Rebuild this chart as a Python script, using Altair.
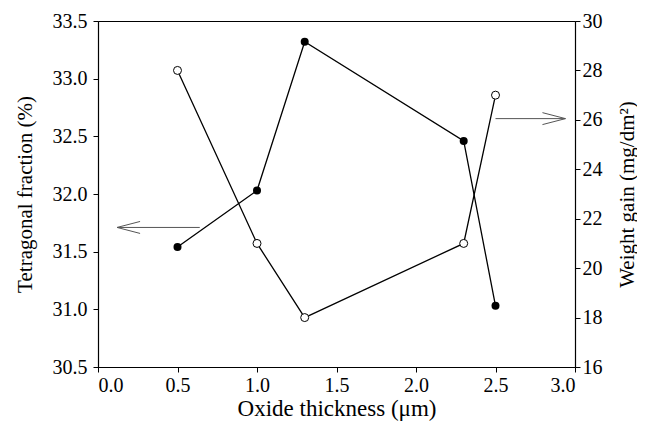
import altair as alt
import pandas as pd

# Data
thickness = [0.5, 1.0, 1.3, 2.3, 2.5]
tetragonal = [31.54, 32.03, 33.32, 32.46, 31.03]
weight_gain = [28.0, 21.0, 18.0, 21.0, 27.0]

x_ticks = [0.0, 0.5, 1.0, 1.5, 2.0, 2.5, 3.0]
left_ticks = [30.5, 31.0, 31.5, 32.0, 32.5, 33.0, 33.5]
right_ticks = [16, 18, 20, 22, 24, 26, 28, 30]

# arrows: tip x, tail x, y value (on their own axis)
arrow_left_tip = [0.12]
arrow_left_tail = [0.64]
arrow_left_y = [31.71]
arrow_right_tip = [2.94]
arrow_right_tail = [2.5]
arrow_right_y = [26.05]

FONT = "Liberation Serif"

df_l = pd.DataFrame({"x": thickness, "y": tetragonal})
df_r = pd.DataFrame({"x": thickness, "y": weight_gain})
arr_l = pd.DataFrame({"tip": arrow_left_tip, "tail": arrow_left_tail, "y": arrow_left_y})
arr_r = pd.DataFrame({"tip": arrow_right_tip, "tail": arrow_right_tail, "y": arrow_right_y})

common = dict(labelFont=FONT, titleFont=FONT, labelFontSize=20, titleFontSize=21,
              labelColor="black", titleColor="black", titleFontWeight="normal",
              domainColor="black", tickColor="black", domainWidth=1.2, tickWidth=1,
              tickSize=5, grid=False)

x_scale = alt.Scale(domain=[0, 3], nice=False, zero=False)
x_axis = alt.Axis(values=x_ticks, format=".1f", title="Oxide thickness (μm)",
                  labelPadding=3, titlePadding=2, **{**common, "titleFontSize": 23})

yl_enc = alt.Y("y:Q", scale=alt.Scale(domain=[30.5, 33.5], nice=False, zero=False),
               axis=alt.Axis(values=left_ticks, format=".1f", title="Tetragonal fraction (%)",
                             orient="left", labelPadding=6, titlePadding=17, **common))
yr_enc = alt.Y("y:Q", scale=alt.Scale(domain=[16, 30], nice=False, zero=False),
               axis=alt.Axis(values=right_ticks, format="d", title="Weight gain (mg/dm²)",
                             orient="right", labelPadding=2, titlePadding=14,
                             titleAngle=270, titleBaseline="top", **common))

ARROW_PATH = "M-2,-0.52L0,0L-2,0.52"

left_line = alt.Chart(df_l).mark_line(color="black", strokeWidth=1.3).encode(
    x=alt.X("x:Q", scale=x_scale, axis=x_axis), y=yl_enc)
left_pts = alt.Chart(df_l).mark_point(filled=True, color="black", size=64, opacity=1).encode(
    x=alt.X("x:Q", scale=x_scale, axis=x_axis), y=yl_enc)
left_arrow = alt.Chart(arr_l).mark_rule(color="#555555", strokeWidth=1).encode(
    x=alt.X("tip:Q", scale=x_scale, axis=x_axis), x2="tail:Q", y=yl_enc)
left_head = alt.Chart(arr_l).mark_point(shape=ARROW_PATH, size=529, filled=False,
                                         color="#555555", strokeWidth=1, angle=180, opacity=1).encode(
    x=alt.X("tip:Q", scale=x_scale, axis=x_axis), y=yl_enc)

right_line = alt.Chart(df_r).mark_line(color="black", strokeWidth=1.3).encode(
    x=alt.X("x:Q", scale=x_scale, axis=x_axis), y=yr_enc)
right_pts = alt.Chart(df_r).mark_point(shape="circle", filled=False, fill="white", stroke="black",
                                        strokeWidth=1, size=64, opacity=1, fillOpacity=1).encode(
    x=alt.X("x:Q", scale=x_scale, axis=x_axis), y=yr_enc)
right_arrow = alt.Chart(arr_r).mark_rule(color="#555555", strokeWidth=1).encode(
    x=alt.X("tail:Q", scale=x_scale, axis=x_axis), x2="tip:Q", y=yr_enc)
right_head = alt.Chart(arr_r).mark_point(shape=ARROW_PATH, size=529, filled=False,
                                          color="#555555", strokeWidth=1, angle=0, opacity=1).encode(
    x=alt.X("tip:Q", scale=x_scale, axis=x_axis), y=yr_enc)

left = alt.layer(left_arrow, left_head, left_line, left_pts)
right = alt.layer(right_arrow, right_head, right_line, right_pts)

chart = alt.layer(left, right).resolve_scale(y="independent").properties(
    width=477, height=346,
    autosize=alt.AutoSizeParams(type="none"),
    padding={"left": 90, "top": 13, "right": 62, "bottom": 63},
    background="white",
).configure_view(
    stroke="black", strokeWidth=1
).configure_axis(
    labelFont=FONT, titleFont=FONT,
)

chart.save("out.html", embed_options={"renderer": "svg", "actions": False})
